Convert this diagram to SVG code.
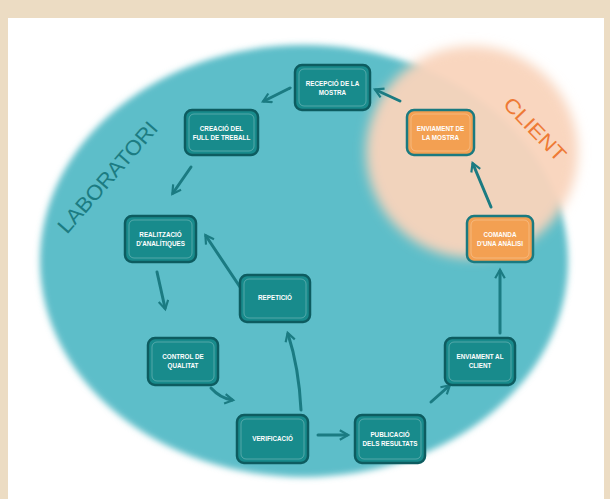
<svg xmlns="http://www.w3.org/2000/svg" width="610" height="499" viewBox="0 0 610 499">
<defs>
<filter id="soft" x="-10%" y="-10%" width="120%" height="120%"><feGaussianBlur stdDeviation="3"/></filter>
<filter id="soft2" x="-20%" y="-20%" width="140%" height="140%"><feGaussianBlur stdDeviation="6"/></filter>
<marker id="ah" viewBox="0 0 10 10" refX="7" refY="5" markerWidth="4" markerHeight="4" orient="auto" markerUnits="strokeWidth">
<path d="M1,1 L8,5 L1,9" fill="none" stroke="#1b7b82" stroke-width="1.8" stroke-linejoin="miter"/>
</marker>
<style>
.n rect.b{fill:#188b8c;stroke:#0d5c60;stroke-width:2.5}
.o rect.b{fill:#f3a052;stroke:#1a7a80;stroke-width:2.5}
.hl{fill:none;stroke:#ffffff;stroke-opacity:0.25;stroke-width:1}
.t{font-family:"Liberation Sans",Arial,sans-serif;font-size:6.3px;font-weight:bold;fill:#ffffff;text-anchor:middle}
.c path,.c line{fill:none;stroke:#1b7b82;stroke-width:3;stroke-linecap:round;marker-end:url(#ah)}
</style>
</defs>
<rect x="0" y="0" width="610" height="499" fill="#ecdcc3"/>
<rect x="8" y="18" width="596" height="481" fill="#ffffff"/>
<ellipse cx="304" cy="261" rx="264" ry="216" fill="#5dbec9" filter="url(#soft)"/>
<circle cx="472" cy="152" r="106" fill="#f9d4bc" fill-opacity="0.95" filter="url(#soft2)"/>
<text x="113" y="182" transform="rotate(-49 113 182)" font-family="Liberation Sans,Arial,sans-serif" font-size="21" fill="#1c7c82" text-anchor="middle" textLength="140" lengthAdjust="spacingAndGlyphs">LABORATORI</text>
<text x="530" y="134" transform="rotate(46 530 134)" font-family="Liberation Sans,Arial,sans-serif" font-size="20" fill="#ee7a35" text-anchor="middle" textLength="80" lengthAdjust="spacingAndGlyphs">CLIENT</text>
<g id="connectors" class="c">
<line x1="400" y1="101" x2="376" y2="90"/>
<line x1="290" y1="88" x2="264" y2="101"/>
<line x1="191" y1="167" x2="173" y2="193"/>
<line x1="157" y1="272" x2="165" y2="308"/>
<path d="M211,388 Q220,398 232,400"/>
<line x1="318" y1="435" x2="347" y2="435"/>
<line x1="431" y1="402" x2="449" y2="386"/>
<line x1="500" y1="333" x2="500" y2="271"/>
<line x1="491" y1="207" x2="473" y2="164"/>
<path d="M301,410 Q299,368 288,334"/>
<line x1="240" y1="287" x2="206" y2="236"/>
</g>
<g id="recepcio" class="n"><rect class="b" x="295" y="65" width="75" height="45" rx="7"/><rect class="hl" x="299" y="69" width="67" height="37" rx="5"/><text class="t" x="332.5" y="86">RECEPCIÓ DE LA</text><text class="t" x="332.5" y="95">MOSTRA</text></g>
<g id="creacio" class="n"><rect class="b" x="185" y="110" width="73" height="45" rx="7"/><rect class="hl" x="189" y="114" width="65" height="37" rx="5"/><text class="t" x="221.5" y="131">CREACIÓ DEL</text><text class="t" x="221.5" y="140">FULL DE TREBALL</text></g>
<g id="realitzacio" class="n"><rect class="b" x="125" y="216" width="71" height="46" rx="7"/><rect class="hl" x="129" y="220" width="63" height="38" rx="5"/><text class="t" x="160.5" y="237">REALITZACIÓ</text><text class="t" x="160.5" y="246">D'ANALÍTIQUES</text></g>
<g id="repeticio" class="n"><rect class="b" x="240" y="275" width="70" height="47" rx="7"/><rect class="hl" x="244" y="279" width="62" height="39" rx="5"/><text class="t" x="275" y="300">REPETICIÓ</text></g>
<g id="control" class="n"><rect class="b" x="148" y="338" width="70" height="47" rx="7"/><rect class="hl" x="152" y="342" width="62" height="39" rx="5"/><text class="t" x="183" y="359">CONTROL DE</text><text class="t" x="183" y="368">QUALITAT</text></g>
<g id="verificacio" class="n"><rect class="b" x="237" y="415" width="71" height="48" rx="7"/><rect class="hl" x="241" y="419" width="63" height="40" rx="5"/><text class="t" x="272.5" y="441">VERIFICACIÓ</text></g>
<g id="publicacio" class="n"><rect class="b" x="355" y="415" width="70" height="48" rx="7"/><rect class="hl" x="359" y="419" width="62" height="40" rx="5"/><text class="t" x="390" y="437">PUBLICACIÓ</text><text class="t" x="390" y="446">DELS RESULTATS</text></g>
<g id="enviament-client" class="n"><rect class="b" x="445" y="338" width="70" height="47" rx="7"/><rect class="hl" x="449" y="342" width="62" height="39" rx="5"/><text class="t" x="480" y="359">ENVIAMENT AL</text><text class="t" x="480" y="368">CLIENT</text></g>
<g id="comanda" class="o"><rect class="b" x="467" y="216" width="66" height="46" rx="7"/><rect class="hl" x="471" y="220" width="58" height="38" rx="5"/><text class="t" x="500" y="237">COMANDA</text><text class="t" x="500" y="246">D'UNA ANÀLISI</text></g>
<g id="enviament-mostra" class="o"><rect class="b" x="407" y="110" width="67" height="45" rx="7"/><rect class="hl" x="411" y="114" width="59" height="37" rx="5"/><text class="t" x="440.5" y="131">ENVIAMENT DE</text><text class="t" x="440.5" y="140">LA MOSTRA</text></g>
</svg>
